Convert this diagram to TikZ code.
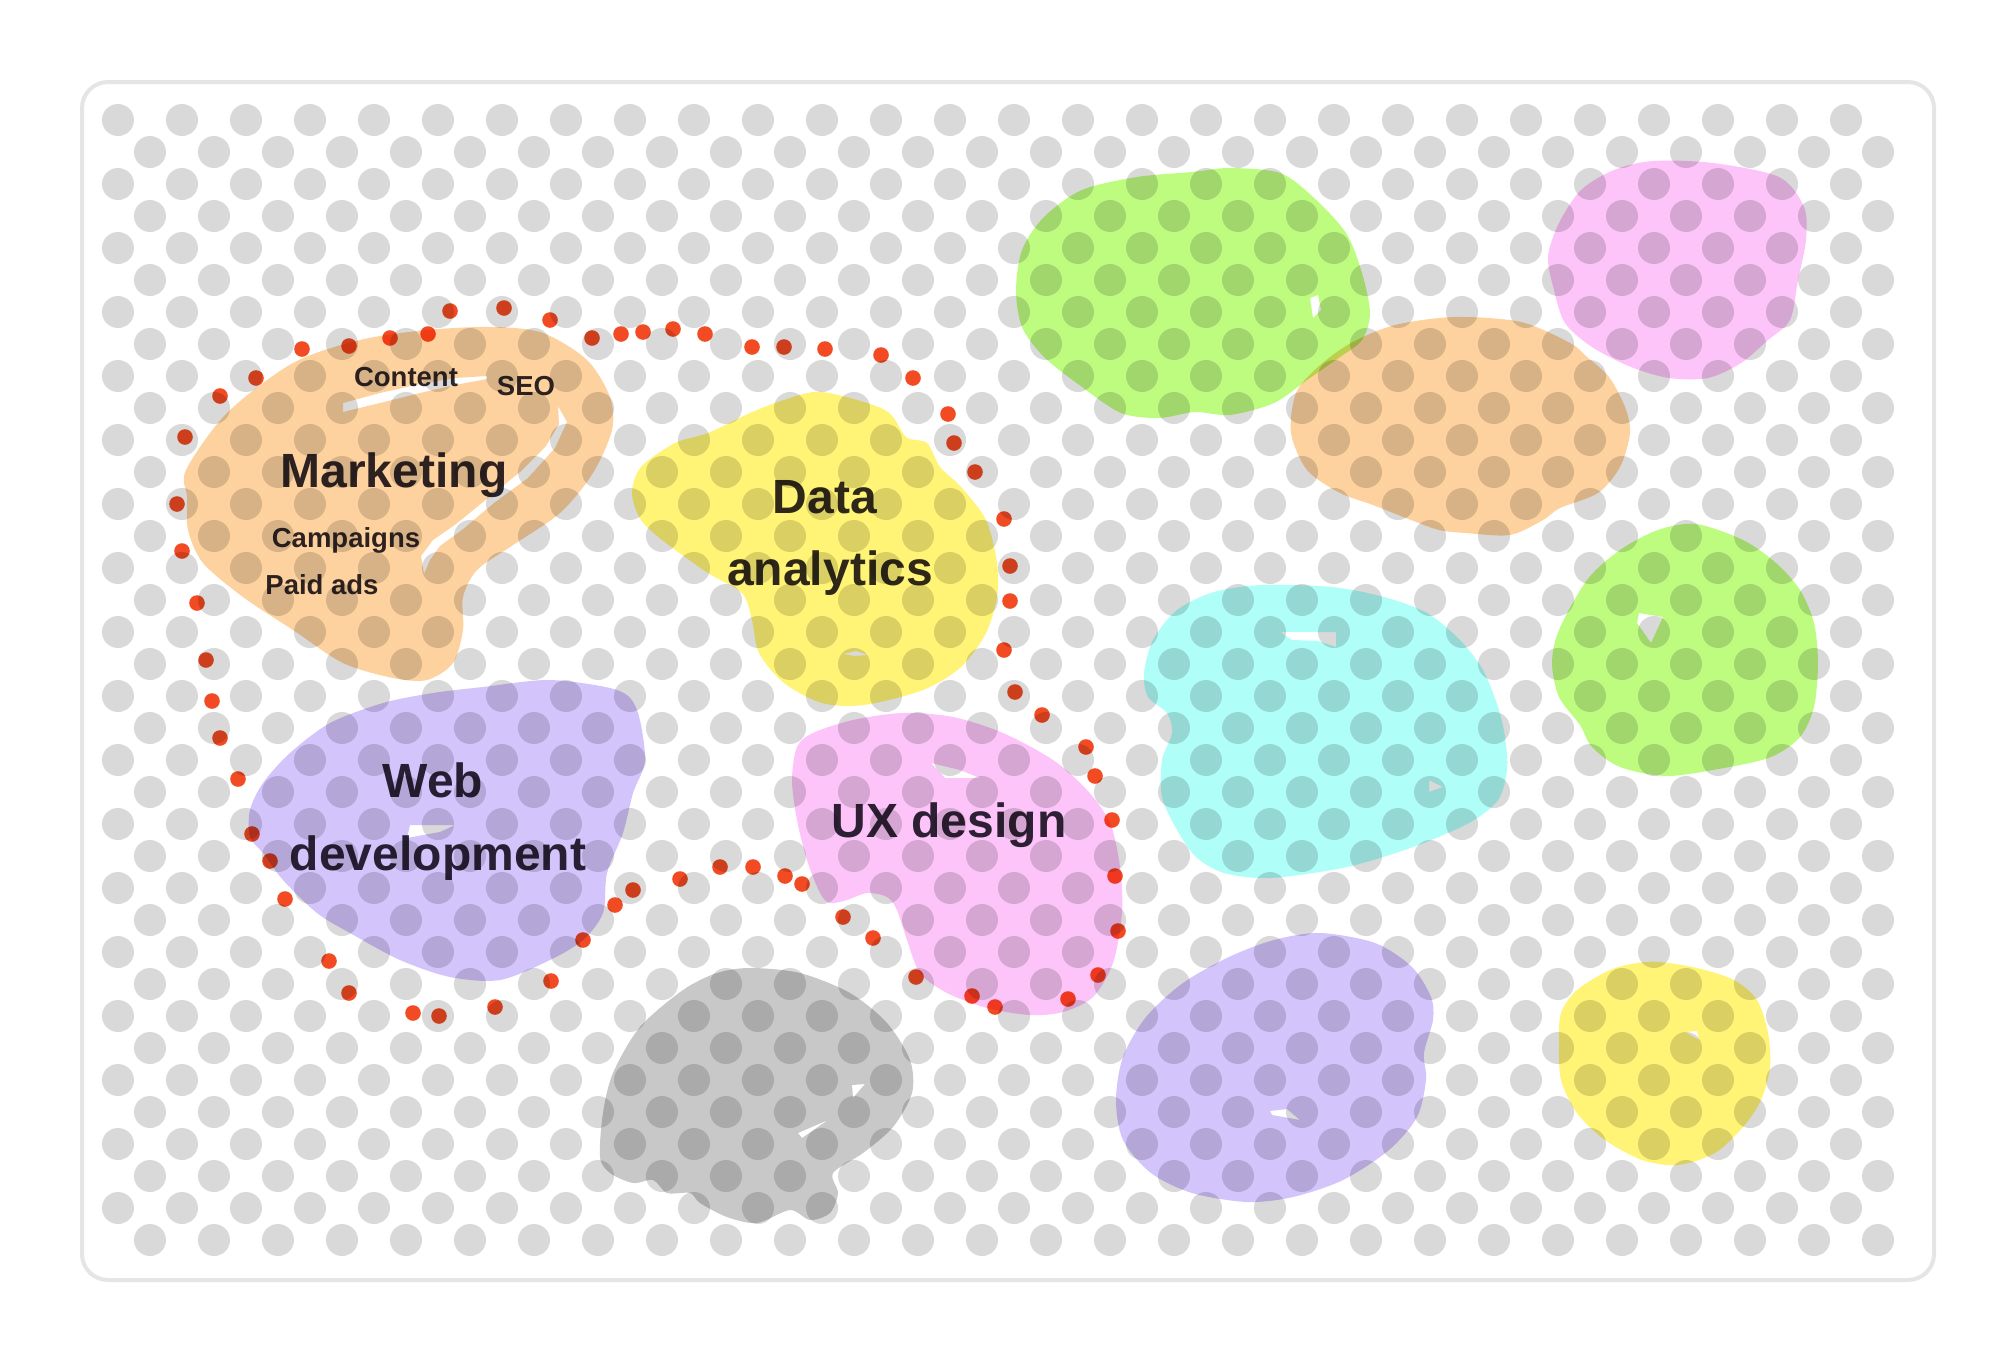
\documentclass[tikz,border=0pt]{standalone}
\usepackage{fontspec}
\setmainfont{Liberation Sans}
\definecolor{cOrange}{HTML}{FDD29E}
\definecolor{cYellow}{HTML}{FFF475}
\definecolor{cGreen}{HTML}{BEFC80}
\definecolor{cCyan}{HTML}{B0FEF8}
\definecolor{cPink}{HTML}{FCC4F9}
\definecolor{cPurple}{HTML}{D4C4FC}
\definecolor{cGray}{HTML}{C8C8C8}
\definecolor{dotgray}{HTML}{D9D9D9}
\definecolor{framegray}{HTML}{E5E5E5}
\definecolor{reddot}{HTML}{F24A23}
\definecolor{txt}{HTML}{2F2A36}
\begin{document}
\begin{tikzpicture}[x=1pt,y=-1pt,
  blob/.style={fill=#1, even odd rule},
  biglbl/.style={font=\fontsize{48}{72}\selectfont\bfseries, text=txt, inner sep=0pt, anchor=base},
  smalllbl/.style={font=\fontsize{27.5}{32}\selectfont\bfseries, text=txt, inner sep=0pt, anchor=base},
  loopdot/.style={fill=reddot}]
\fill[white] (0,0) rectangle (2016,1360);
\useasboundingbox (0,0) rectangle (2016,1360);
% frame
\draw[framegray, line width=4pt, rounded corners=26pt] (82,82) rectangle (1934,1280);
% dot pattern
\foreach \r in {0,...,35}{
  \foreach \c in {0,...,27}{
    \pgfmathsetmacro\xx{118+64*\c+32*mod(\r,2)}
    \pgfmathsetmacro\yy{120+32*\r}
    \fill[dotgray] (\xx,\yy) circle (16);
  }
}
\begin{scope}[blend mode=multiply]
% Marketing blob
\fill[blob=cOrange] plot[smooth cycle] coordinates {(186,470) (227,413) (293,363) (360,340) (427,330) (493,327) (543,333) (587,360) (610,397) (612,430) (593,473) (560,513) (510,547) (477,570) (463,597) (463,630) (453,663) (427,680) (393,678) (343,663) (293,630) (243,597) (203,563) (188,530) (187,497)}
  (343,403) -- (380,393) -- (420,384) -- (455,378) -- (487,376) -- (487,379) -- (455,385) -- (420,393) -- (380,403) -- (343,412) -- cycle
  (558,406) -- (567,422) -- (555,448) -- (528,478) -- (494,503) -- (462,530) -- (440,546) -- (430,560) -- (424,574) -- (421,556) -- (433,540) -- (456,524) -- (488,498) -- (520,472) -- (546,446) -- (559,424) -- cycle;
% Data analytics blob
\fill[blob=cYellow] plot[smooth cycle] coordinates {(822,392) (885,410) (906,437) (927,443) (940,467) (961,487) (986,520) (997,563) (997,597) (986,633) (961,667) (923,690) (864,705) (822,703) (784,683) (759,653) (752,620) (742,593) (708,573) (666,543) (641,520) (632,493) (641,467) (675,443) (708,433) (750,413) (784,400)}
  (843,654) -- (856,651) -- (869,655) -- (855,656) -- cycle;
% Web development blob
\fill[blob=cPurple] plot[smooth cycle] coordinates {(483,687) (550,680) (617,690) (637,710) (645,760) (633,793) (623,833) (607,873) (603,913) (583,940) (550,960) (500,980) (450,977) (400,960) (350,933) (317,913) (283,880) (263,853) (250,837) (250,810) (263,783) (290,753) (330,723) (383,703) (433,693)}
  (410,825) -- (455,825) -- (440,832) -- (407,838) -- cycle;
% UX design blob
\fill[blob=cPink] plot[smooth cycle] coordinates {(813,733) (853,720) (903,713) (953,717) (1003,733) (1053,760) (1087,790) (1110,823) (1120,867) (1122,913) (1113,963) (1093,997) (1063,1012) (1030,1015) (987,1008) (947,993) (920,973) (907,940) (897,910) (887,897) (867,893) (847,900) (830,903) (820,893) (807,860) (797,820) (792,780) (797,747)}
  (931,763) -- (960,770) -- (980,778) -- (945,778) -- cycle;
% gray blob
\fill[blob=cGray] plot[smooth cycle] coordinates {(750,968) (800,973) (850,993) (887,1023) (910,1060) (912,1093) (893,1127) (863,1153) (833,1173) (838,1193) (830,1213) (810,1220) (790,1210) (757,1223) (727,1217) (700,1203) (690,1193) (667,1193) (653,1180) (633,1183) (610,1173) (600,1157) (603,1113) (613,1073) (640,1027) (683,990) (717,973)}
  (852,1085) -- (865,1084) -- (853,1098) -- cycle
  (798,1133) -- (828,1120) -- (802,1138) -- cycle;
% green top
\fill[blob=cGreen] plot[smooth cycle] coordinates {(1230,168) (1280,173) (1313,197) (1346,233) (1362,273) (1370,313) (1362,340) (1340,357) (1307,380) (1274,403) (1230,415) (1195,412) (1159,418) (1121,413) (1082,387) (1044,357) (1022,327) (1016,290) (1022,250) (1044,217) (1082,190) (1137,177) (1192,172)}
  (1310,298) -- (1318,295) -- (1321,310) -- (1313,318) -- cycle;
% orange right
\fill[blob=cOrange] plot[smooth cycle] coordinates {(1455,317) (1521,322) (1570,343) (1587,357) (1609,377) (1625,407) (1630,433) (1620,467) (1598,493) (1560,508) (1543,520) (1510,535) (1466,533) (1439,530) (1411,520) (1373,505) (1340,493) (1307,470) (1291,433) (1296,393) (1318,367) (1351,343) (1395,325)};
% pink top right
\fill[blob=cPink] plot[smooth cycle] coordinates {(1653,161) (1713,163) (1779,177) (1804,207) (1806,240) (1798,280) (1790,320) (1768,340) (1741,363) (1708,378) (1669,378) (1631,367) (1592,347) (1565,323) (1554,290) (1548,257) (1559,223) (1581,190) (1614,170)};
% cyan
\fill[blob=cCyan] plot[smooth cycle] coordinates {(1262,585) (1332,587) (1384,597) (1427,613) (1460,640) (1483,670) (1498,707) (1505,737) (1507,770) (1498,800) (1469,823) (1413,847) (1347,867) (1271,878) (1224,873) (1196,857) (1177,830) (1162,797) (1162,760) (1172,733) (1167,713) (1148,697) (1144,673) (1153,640) (1177,610) (1214,592)}
  (1280,632) -- (1336,632) -- (1336,647) -- (1318,641) -- (1292,640) -- cycle
  (1429,780) -- (1443,787) -- (1429,792) -- cycle;
% green right
\fill[blob=cGreen] plot[smooth cycle] coordinates {(1696,524) (1743,540) (1776,563) (1800,590) (1814,623) (1818,663) (1814,707) (1800,737) (1771,757) (1724,768) (1667,776) (1620,767) (1592,747) (1580,725) (1559,697) (1552,663) (1559,630) (1587,580) (1620,550) (1658,530)}
  (1639,613) -- (1663,617) -- (1651,643) -- (1637,623) -- cycle;
% purple bottom right
\fill[blob=cPurple] plot[smooth cycle] coordinates {(1320,933) (1375,943) (1412,967) (1431,997) (1433,1020) (1424,1053) (1426,1080) (1417,1117) (1389,1150) (1343,1180) (1293,1197) (1247,1202) (1192,1193) (1151,1173) (1123,1140) (1116,1100) (1123,1057) (1146,1017) (1183,983) (1229,957) (1274,940)}
  (1270,1111) -- (1287,1109) -- (1300,1120) -- (1272,1115) -- cycle;
% yellow bottom right
\fill[blob=cYellow] plot[smooth cycle] coordinates {(1660,962) (1697,968) (1734,980) (1757,1000) (1768,1033) (1770,1067) (1761,1100) (1743,1127) (1715,1153) (1678,1165) (1642,1160) (1605,1140) (1577,1113) (1561,1080) (1559,1043) (1561,1013) (1577,990) (1610,970) (1637,963)}
  (1685,1032) -- (1697,1031) -- (1699,1040) -- cycle;
% dotted red loop
\foreach \px/\py in {185/437, 220/396, 256/378, 302/349, 349/346, 390/338, 428/334, 450/311, 504/308, 550/320, 592/338, 621/334, 643/332, 673/329, 705/334, 752/347, 784/347, 825/349, 881/355, 913/378, 948/414, 954/443, 975/472, 1004/519, 1010/566, 1010/601, 1004/650, 1015/692, 1042/715, 1086/747, 1095/776, 1112/820, 1115/876, 1118/931, 1098/975, 1068/999, 995/1007, 972/996, 916/977, 873/938, 843/917, 802/884, 785/876, 753/867, 720/867, 680/879, 633/890, 615/905, 583/940, 551/981, 495/1007, 439/1016, 413/1013, 349/993, 329/961, 285/899, 270/861, 252/834, 238/779, 220/738, 212/701, 206/660, 197/603, 182/551, 177/504}
  \fill[loopdot] (\px,\py) circle (7.8);
% labels
\node[smalllbl] (content) at (406,386) {Content};
\node[smalllbl] (seo) at (526,395) {SEO};
\node[biglbl] (marketing) at (394,487) {Marketing};
\node[smalllbl] (campaigns) at (346,547) {Campaigns};
\node[smalllbl] (paidads) at (322,594) {Paid ads};
\node[biglbl] (data1) at (825,513) {Data};
\node[biglbl] (data2) at (830,585) {analytics};
\node[biglbl] (web1) at (433,797) {Web};
\node[biglbl] (web2) at (438,870) {development};
\node[biglbl] (ux) at (949,837) {UX design};
\end{scope}
\end{tikzpicture}
\end{document}
